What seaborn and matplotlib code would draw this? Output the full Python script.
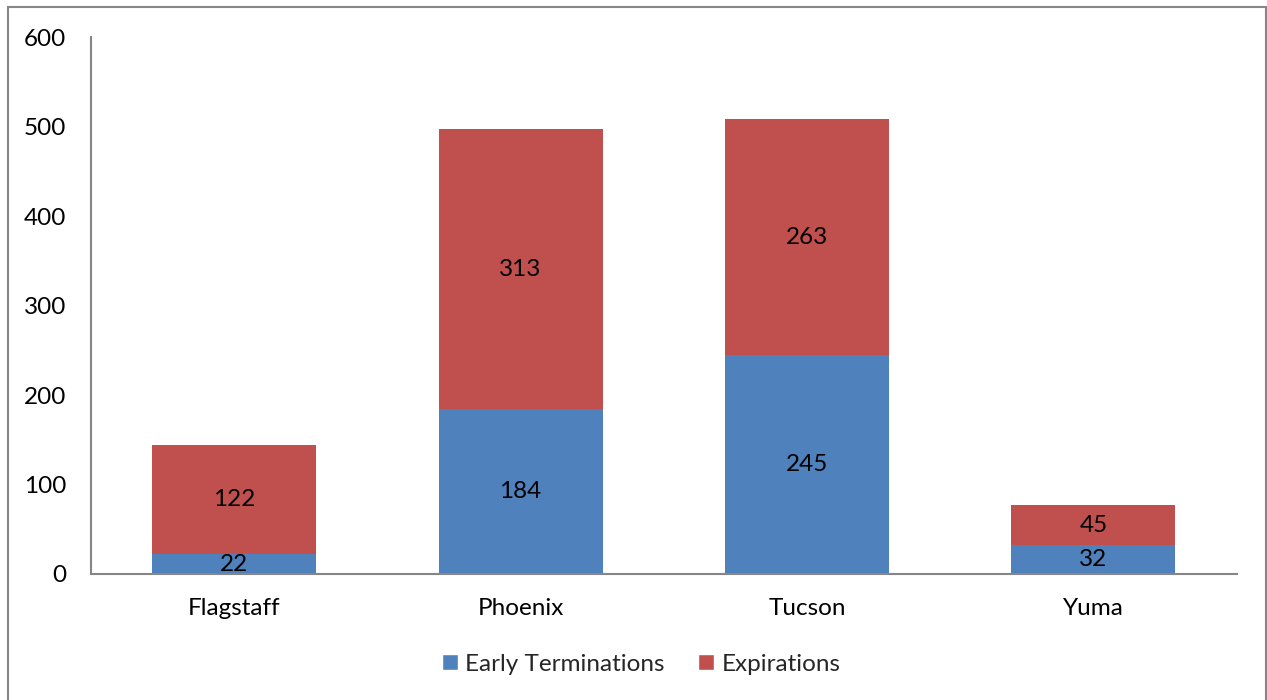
import pandas as pd
import matplotlib
matplotlib.use("Agg")
import matplotlib.pyplot as plt
import seaborn as sns
from matplotlib.patches import Rectangle, Patch

# chart values
cities = ["Flagstaff", "Phoenix", "Tucson", "Yuma"]
early_terminations = [22, 184, 245, 32]
expirations = [122, 313, 263, 45]

blue = "#4F81BD"
red = "#C0504D"

sns.set_theme(style="white")
plt.rcParams["font.family"] = ["Lato", "DejaVu Sans"]

df = pd.DataFrame({
    "city": cities,
    "early": early_terminations,
    "expired": expirations,
})
df["total"] = df["early"] + df["expired"]

fig = plt.figure(figsize=(12.67, 7), dpi=100)
ax = fig.add_axes([0.0718, 0.18, 0.9042, 0.767])

# total bar in red, early terminations drawn over it in blue
sns.barplot(data=df, x="city", y="total", color=red, saturation=1, width=0.573,
            linewidth=0, ax=ax)
sns.barplot(data=df, x="city", y="early", color=blue, saturation=1, width=0.573,
            linewidth=0, ax=ax)

fs = 17.5
bars_total, bars_early = ax.containers[0], ax.containers[1]
ax.bar_label(bars_early, labels=[str(v) for v in early_terminations],
             label_type="center", fontsize=fs, color="black")
# red segment labels centred in the upper part
for rect, e, x in zip(bars_total, early_terminations, expirations):
    ax.text(rect.get_x() + rect.get_width() / 2, e + x / 2, str(x),
            ha="center", va="center", fontsize=fs, color="black")

ax.set_ylim(0, 600)
ax.set_yticks(range(0, 601, 100))
ax.set_xlim(-0.5, 3.5)
ax.set_xlabel("")
ax.set_ylabel("")
ax.tick_params(axis="both", length=0, labelsize=fs, colors="black")
ax.tick_params(axis="y", pad=18)
ax.tick_params(axis="x", pad=17)

for side in ["top", "right"]:
    ax.spines[side].set_visible(False)
for side in ["left", "bottom"]:
    ax.spines[side].set_color("#868686")
    ax.spines[side].set_linewidth(1.5)

handles = [Patch(facecolor=blue, label="Early Terminations"),
           Patch(facecolor=red, label="Expirations")]
fig.legend(handles=handles, loc="center", bbox_to_anchor=(0.506, 0.051), ncol=2,
           frameon=False, fontsize=fs, handlelength=0.65, handleheight=0.65,
           handletextpad=0.3, columnspacing=1.4)

# outer chart border
fig.patches.append(Rectangle((0.0065, -0.01), 0.9925, 1.0, transform=fig.transFigure,
                             fill=False, edgecolor="#868686", linewidth=1.5))

fig.savefig("out.png", dpi=100)
